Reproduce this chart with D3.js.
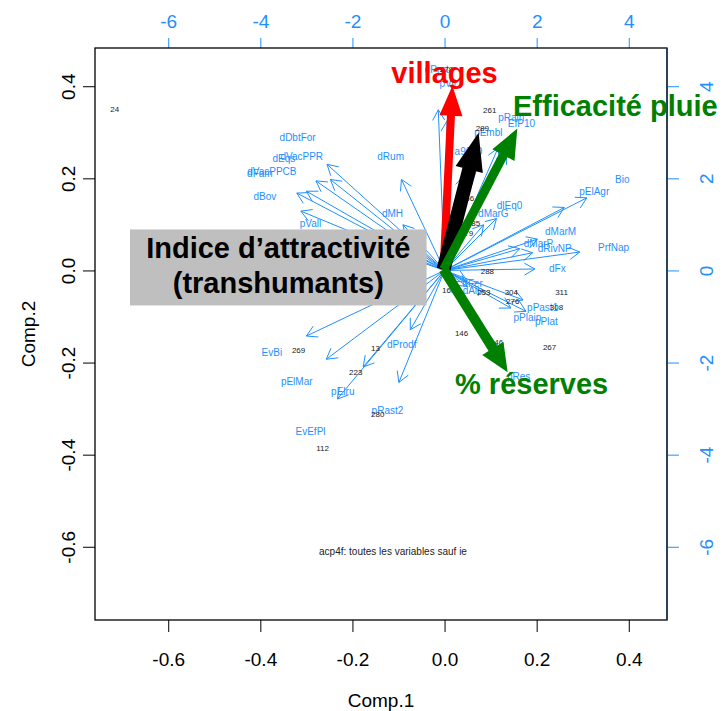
<!DOCTYPE html>
<html>
<head>
<meta charset="utf-8">
<script src="https://cdn.jsdelivr.net/npm/d3@7"></script>
<style>
  body { margin: 0; background: #fff; }
  svg { display: block; font-family: "Liberation Sans", Arial, Helvetica, sans-serif; }
</style>
</head>
<body>
<svg id="chart" width="727" height="711"></svg>
<script>
// Principal component ticks (scores on bottom/left, loadings on top/right)
const comp1Ticks = [-0.6, -0.4, -0.2, 0, 0.2, 0.4];
const comp2Ticks = [-0.6, -0.4, -0.2, 0, 0.2, 0.4];
const loadTicks = [-6, -4, -2, 0, 2, 4];

// Variable loadings (top/right scale)
const varNames = ["dDbtFor", "dVacPPR", "dEqs", "dVacPPCB", "dFam", "dBov", "pVall", "dRum", "dMH",
  "dProt", "pVil", "a9000", "pEmbl", "pRain", "EfP10",
  "Bio", "pElAgr", "dlEq0", "dMarG", "dMarM", "dMarP", "dRivNP", "PrfNap", "dFx",
  "dFer", "dAlp", "pPast1", "pPlain", "pPlat", "pRes",
  "EvBi", "pElMar", "pElru", "dProdf", "pRast2", "EvEfPl"];
const varComp1 = [-3.19, -3.10, -3.49, -3.75, -4.01, -3.90, -2.91, -1.17, -1.13,
  -0.17, 0.07, 0.52, 0.95, 1.45, 1.67,
  3.86, 3.25, 1.41, 1.06, 2.52, 2.04, 2.39, 3.67, 2.45,
  0.61, 0.61, 2.13, 1.80, 2.21, 1.61,
  -3.75, -3.21, -2.21, -0.93, -1.24, -2.91];
const varComp2 = [2.88, 2.47, 2.43, 2.15, 2.10, 1.61, 1.02, 2.47, 1.24,
  4.36, 4.06, 2.58, 2.99, 3.32, 3.19,
  1.97, 1.71, 1.41, 1.24, 0.85, 0.59, 0.48, 0.50, 0.04,
  -0.28, -0.43, -0.80, -1.02, -1.11, -2.30,
  -1.78, -2.41, -2.62, -1.61, -3.04, -3.49];

// Observation scores (bottom/left scale)
const obsNames = ["24", "278", "261", "289", "156", "185", "179", "288", "165", "253", "304", "311",
  "276", "308", "146", "246", "267", "269", "13", "223", "280", "112"];
const obsComp1 = [-0.716, 0.004, 0.098, 0.082, 0.050, 0.063, 0.048, 0.093, 0.009, 0.085, 0.145, 0.254,
  0.148, 0.243, 0.037, 0.113, 0.228, -0.317, -0.150, -0.193, -0.145, -0.265];
const obsComp2 = [0.351, 0.438, 0.349, 0.308, 0.156, 0.102, 0.080, -0.002, -0.043, -0.048, -0.048, -0.048,
  -0.067, -0.080, -0.137, -0.156, -0.167, -0.174, -0.169, -0.221, -0.312, -0.386];

// Highlighted directions (loading scale) and their captions
const themeNames = ["villages", "Indice", "Efficacité pluie", "% réserves"];
const themeComp1 = [0.17, 0.74, 1.58, 1.37];
const themeComp2 = [4.01, 2.99, 3.08, -2.21];
const themeColors = ["#ff0000", "#000000", "#008000", "#008000"];

const lim = [-0.759, 0.483];
const blue = "#1e90ff";

const svg = d3.select("#chart");
const L = 95, R = 667, T = 48, B = 620;

const x = d3.scaleLinear().domain(lim).range([L, R]);
const y = d3.scaleLinear().domain(lim).range([B, T]);
const xl = d3.scaleLinear().domain(lim.map(v => v * 10)).range([L, R]);
const yl = d3.scaleLinear().domain(lim.map(v => v * 10)).range([B, T]);

const fmt1 = d => d.toFixed(1);
const fmt0 = d => String(d);

// ---- axes ----
function styleAxis(g, color) {
  g.select(".domain").remove();
  g.selectAll(".tick line").attr("stroke", color).attr("stroke-width", 1);
  g.selectAll(".tick text").attr("fill", color).style("font-size", "19px")
    .style("font-family", '"Liberation Sans", Arial, sans-serif');
}

const gBottom = svg.append("g").attr("transform", `translate(0,${B})`)
  .call(d3.axisBottom(x).tickValues(comp1Ticks).tickFormat(fmt1).tickSize(12).tickPadding(21));
styleAxis(gBottom, "#000");

const gTop = svg.append("g").attr("transform", `translate(0,${T})`)
  .call(d3.axisTop(xl).tickValues(loadTicks).tickFormat(fmt0).tickSize(10).tickPadding(10));
styleAxis(gTop, blue);

const gLeft = svg.append("g").attr("transform", `translate(${L},0)`)
  .call(d3.axisLeft(y).tickValues(comp2Ticks).tickFormat(fmt1).tickSize(12));
styleAxis(gLeft, "#000");
gLeft.selectAll(".tick text").attr("x", 0).attr("y", 0).attr("dy", "0.36em")
  .attr("text-anchor", "middle").attr("transform", "translate(-27,0) rotate(-90)");

const gRight = svg.append("g").attr("transform", `translate(${R},0)`)
  .call(d3.axisRight(yl).tickValues(loadTicks).tickFormat(fmt0).tickSize(12));
styleAxis(gRight, blue);
gRight.selectAll(".tick text").attr("x", 0).attr("y", 0).attr("dy", "0.36em")
  .attr("text-anchor", "middle").attr("transform", "translate(39,0) rotate(-90)");

svg.append("text").attr("x", (L + R) / 2).attr("y", 707).attr("text-anchor", "middle")
  .style("font-size", "19px").text("Comp.1");
svg.append("text").attr("text-anchor", "middle").style("font-size", "19px")
  .attr("transform", `translate(35,${(T + B) / 2}) rotate(-90)`).text("Comp.2");

// ---- variable arrows (drawn to 80% of the loading, label at the loading) ----
const ox = xl(0), oy = yl(0);
const headLen = 12, headAng = Math.PI / 6;
const gVar = svg.append("g").attr("stroke", blue).attr("stroke-width", 1).attr("fill", "none");
varNames.forEach((n, i) => {
  const tx = xl(varComp1[i] * 0.8), ty = yl(varComp2[i] * 0.8);
  const a = Math.atan2(ty - oy, tx - ox);
  const p1 = [tx - headLen * Math.cos(a - headAng), ty - headLen * Math.sin(a - headAng)];
  const p2 = [tx - headLen * Math.cos(a + headAng), ty - headLen * Math.sin(a + headAng)];
  gVar.append("path").attr("d", `M${ox},${oy}L${tx},${ty}M${p1[0]},${p1[1]}L${tx},${ty}L${p2[0]},${p2[1]}`);
});
svg.append("g").selectAll("text").data(varNames).join("text")
  .attr("x", (d, i) => xl(varComp1[i])).attr("y", (d, i) => yl(varComp2[i]))
  .attr("dy", "0.35em").attr("text-anchor", "middle")
  .attr("fill", blue).style("font-size", "10px").text(d => d);

// ---- observation labels ----
svg.append("g").selectAll("text").data(obsNames).join("text")
  .attr("x", (d, i) => x(obsComp1[i])).attr("y", (d, i) => y(obsComp2[i]))
  .attr("dy", "0.35em").attr("text-anchor", "middle")
  .attr("fill", "#1a1a1a").style("font-size", "8px").text(d => d);

svg.append("text").attr("x", 393).attr("y", 555).attr("text-anchor", "middle")
  .attr("fill", "#222").style("font-size", "10px").text("acp4f: toutes les variables sauf ie");

// ---- frame ----
svg.append("rect").attr("x", L).attr("y", T).attr("width", R - L).attr("height", B - T)
  .attr("fill", "none").attr("stroke", "#000").attr("stroke-width", 1.3);
svg.append("line").attr("x1", R).attr("x2", R).attr("y1", T).attr("y2", B)
  .attr("stroke", "#1f3a5a").attr("stroke-width", 1.5);

// ---- highlighted thick arrows ----
const thick = [
  { w: 8, hw: 23, hl: 30 },
  { w: 14, hw: 28, hl: 38 },
  { w: 9, hw: 25, hl: 30 },
  { w: 10, hw: 25, hl: 28 }
];
function bigArrow(sx, sy, tx, ty, w, hw, hl) {
  const dx = tx - sx, dy = ty - sy, len = Math.hypot(dx, dy);
  const ux = dx / len, uy = dy / len, nx = -uy, ny = ux;
  const bx = tx - ux * hl, by = ty - uy * hl;
  const pts = [
    [sx + nx * w / 2, sy + ny * w / 2], [bx + nx * w / 2, by + ny * w / 2],
    [bx + nx * hw / 2, by + ny * hw / 2], [tx, ty],
    [bx - nx * hw / 2, by - ny * hw / 2], [bx - nx * w / 2, by - ny * w / 2],
    [sx - nx * w / 2, sy - ny * w / 2]
  ];
  return "M" + pts.map(p => p.join(",")).join("L") + "Z";
}
[0, 1, 2, 3].forEach(i => {
  svg.append("path")
    .attr("d", bigArrow(ox - 1, oy - 1, xl(themeComp1[i]), yl(themeComp2[i]), thick[i].w, thick[i].hw, thick[i].hl))
    .attr("fill", themeColors[i]);
});

// ---- captions ----
const capStyle = sel => sel.style("font-size", "29px").style("font-weight", "bold")
  .style("font-family", '"Liberation Sans", Arial, sans-serif');

svg.append("text").attr("x", xl(0)).attr("y", 83).attr("text-anchor", "middle")
  .attr("fill", themeColors[0]).call(capStyle).text(themeNames[0]);
svg.append("text").attr("x", 513).attr("y", 116).attr("text-anchor", "start")
  .attr("fill", themeColors[2]).call(capStyle).text(themeNames[2]);
svg.append("text").attr("x", 455).attr("y", 394).attr("text-anchor", "start")
  .attr("fill", themeColors[3]).call(capStyle).text(themeNames[3]);

// grey caption box for the attractiveness index
const bx0 = xl(-6.83), bx1 = xl(-0.39), by0 = yl(0.89), by1 = yl(-0.76);
svg.append("rect").attr("x", bx0).attr("y", by0).attr("width", bx1 - bx0).attr("height", by1 - by0)
  .attr("fill", "#bfbfbf");
svg.append("text").attr("x", (bx0 + bx1) / 2).attr("y", 258).attr("text-anchor", "middle")
  .attr("fill", "#000").call(capStyle).text("Indice d’attractivité");
svg.append("text").attr("x", (bx0 + bx1) / 2).attr("y", 293).attr("text-anchor", "middle")
  .attr("fill", "#000").call(capStyle).text("(transhumants)");
</script>
</body>
</html>
